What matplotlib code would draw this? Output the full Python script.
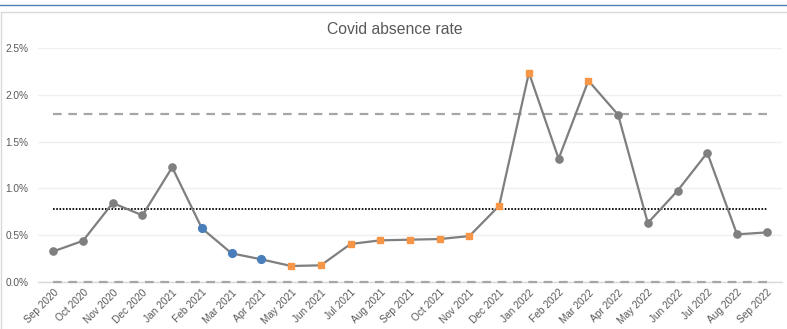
import matplotlib
matplotlib.use("Agg")
import matplotlib.pyplot as plt
from matplotlib.lines import Line2D
from matplotlib.patches import Rectangle
from matplotlib.ticker import FuncFormatter, MultipleLocator

plt.rcParams['font.family'] = ['Liberation Sans', 'DejaVu Sans']

# Monthly covid absence rate (%)
months = ["Sep 2020", "Oct 2020", "Nov 2020", "Dec 2020", "Jan 2021", "Feb 2021",
          "Mar 2021", "Apr 2021", "May 2021", "Jun 2021", "Jul 2021", "Aug 2021",
          "Sep 2021", "Oct 2021", "Nov 2021", "Dec 2021", "Jan 2022", "Feb 2022",
          "Mar 2022", "Apr 2022", "May 2022", "Jun 2022", "Jul 2022", "Aug 2022",
          "Sep 2022"]
rates = [0.327, 0.44, 0.844, 0.712, 1.225, 0.573, 0.306, 0.242, 0.171, 0.178,
         0.406, 0.445, 0.452, 0.459, 0.491, 0.815, 2.236, 1.317, 2.151, 1.787,
         0.63, 0.975, 1.381, 0.509, 0.53]
# point category: 'n' normal, 'low' run below the centre line, 'high' run / above upper limit
flags = ["n", "n", "n", "n", "n", "low", "low", "low", "high", "high",
         "high", "high", "high", "high", "high", "high", "high", "n",
         "high", "n", "n", "n", "n", "n", "n"]

centre_line = 0.783
upper_limit = 1.80
lower_limit = 0.0

W, H = 787, 329
fig = plt.figure(figsize=(W / 100, H / 100), dpi=100)

# frame decorations
fig.add_artist(Line2D([0, 1], [1 - 5 / H, 1 - 5 / H], transform=fig.transFigure,
                      color="#4f7db5", lw=1.0))
fig.add_artist(Rectangle((0.5 / W, -0.1), 1.1, 1.1 - 12 / H, transform=fig.transFigure,
                         fill=False, edgecolor="#d9d9d9", lw=1.0))

left, right = 38.4 / W, 781.6 / W
bottom, top = (H - 282.0) / H, (H - 48.0) / H
ax = fig.add_axes([left, bottom, right - left, top - bottom])

x = list(range(len(months)))
n = len(months)

# control lines
ax.plot([0, n - 1], [upper_limit, upper_limit], color="#a6a6a6", lw=1.6,
        dashes=(3.9, 3.0), zorder=3)
ax.plot([0, n - 1], [lower_limit, lower_limit], color="#a6a6a6", lw=1.6,
        dashes=(3.9, 3.0), zorder=6, clip_on=False)
ax.plot([0, n - 1], [centre_line, centre_line], color="black", lw=1.3,
        dashes=(0.9, 0.9), zorder=3)

ax.plot(x, rates, color="#7f7f7f", lw=1.6, zorder=4)

for i, (r, f) in enumerate(zip(rates, flags)):
    if f == "n":
        ax.plot(i, r, "o", ms=5.2, color="#7f7f7f", mec="#7f7f7f", zorder=5)
    elif f == "low":
        ax.plot(i, r, "o", ms=5.6, color="#4a7ebb", mec="#4a7ebb", zorder=5)
    else:
        ax.plot(i, r, "s", ms=5.0, color="#f79646", mec="#f79646", zorder=5)

ax.set_xlim(-0.5, n - 0.5)
ax.set_ylim(0, 2.5)
ax.yaxis.set_major_locator(MultipleLocator(0.5))
ax.yaxis.set_major_formatter(FuncFormatter(lambda v, p: f"{v:.1f}%"))
ax.grid(axis="y", color="#efefef", lw=1.0, zorder=0)
ax.set_axisbelow(True)
for name, s in ax.spines.items():
    s.set_visible(name == "bottom")
ax.spines["bottom"].set_color("#d9d9d9")
ax.spines["bottom"].set_linewidth(1.0)
ax.spines["bottom"].set_zorder(1)

ax.set_xticks(x)
ax.set_xticklabels(months, rotation=45, ha="right", va="top", rotation_mode="anchor")
ax.tick_params(axis="both", length=0, labelsize=7.3, colors="#595959")
ax.tick_params(axis="y", pad=7)
ax.tick_params(axis="x", pad=4)

fig.text(395 / W, 1 - 29 / H, "Covid absence rate", ha="center", va="center",
         fontsize=11.3, color="#595959")

fig.savefig("out.png", dpi=100)
